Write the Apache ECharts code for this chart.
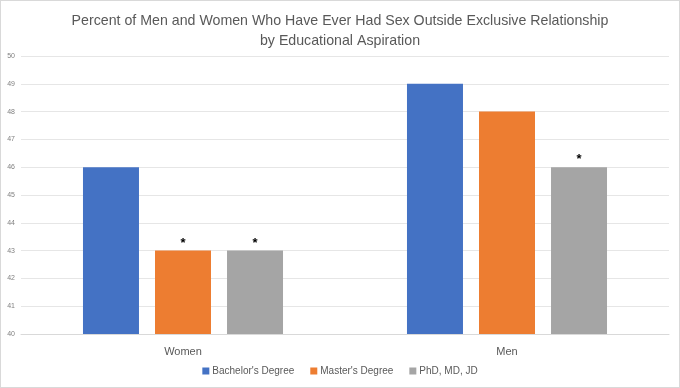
<!DOCTYPE html>
<html><head><meta charset="utf-8">
<script src="https://cdn.jsdelivr.net/npm/echarts@6/dist/echarts.min.js"></script>
<style>html,body{margin:0;padding:0;background:#fff}#c{width:680px;height:388px;box-sizing:border-box;border:1px solid #d9d9d9}</style>
</head><body><div id="c"></div>
<script>
const categories = ['Women', 'Men'];
const seriesNames = ["Bachelor's Degree", "Master's Degree", 'PhD, MD, JD'];
const bachelor = [46, 49];
const master = [43, 48];
const phd = [43, 46];
const bachelorMark = ['', ''];
const masterMark = ['*', ''];
const phdMark = ['*', '*'];
const yTicks = [40, 41, 42, 43, 44, 45, 46, 47, 48, 49, 50];
const colors = ['#4472C4', '#ED7D31', '#A5A5A5'];

const chart = echarts.init(document.getElementById('c'));
function mk(name, vals, marks, color) {
  return {
    name: name, type: 'bar', barWidth: 56, barGap: '28.6%',
    itemStyle: { color: color },
    data: vals.map((v, i) => ({
      value: v,
      label: { show: marks[i] !== '', formatter: marks[i], position: 'top', distance: 1,
               color: '#000', fontSize: 13, fontWeight: 'bold', fontFamily: 'Liberation Sans' }
    }))
  };
}
chart.setOption({
  animation: false,
  textStyle: { fontFamily: 'Liberation Sans' },
  title: {
    text: 'Percent of Men and Women Who Have Ever Had Sex Outside Exclusive Relationship\nby Educational Aspiration',
    left: 'center', top: 5,
    textStyle: { fontSize: 14.2, fontWeight: 'normal', color: '#595959', lineHeight: 20, fontFamily: 'Liberation Sans' }
  },
  legend: {
    bottom: 6, left: 'center', itemWidth: 7, itemHeight: 7, itemGap: 16,
    icon: 'rect',
    textStyle: { fontSize: 10, color: '#595959', padding: [0, 0, 0, -2] },
    data: seriesNames
  },
  grid: { left: 20, right: 10, top: 55, bottom: 53, containLabel: false },
  xAxis: {
    type: 'category', data: categories,
    axisLine: { lineStyle: { color: '#d9d9d9' } },
    axisTick: { show: false },
    axisLabel: { fontSize: 11, color: '#595959', margin: 12 }
  },
  yAxis: {
    type: 'value', min: yTicks[0], max: yTicks[yTicks.length - 1], interval: 1,
    axisLine: { show: false }, axisTick: { show: false },
    axisLabel: { fontSize: 7, color: '#7f7f7f', margin: 6 },
    splitLine: { lineStyle: { color: '#e6e6e6' } }
  },
  series: [
    mk(seriesNames[0], bachelor, bachelorMark, colors[0]),
    mk(seriesNames[1], master, masterMark, colors[1]),
    mk(seriesNames[2], phd, phdMark, colors[2])
  ]
});
</script></body></html>
